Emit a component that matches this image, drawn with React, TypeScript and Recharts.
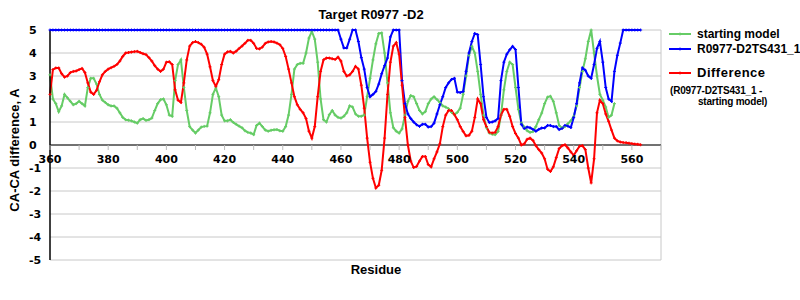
import React from "react";
import { LineChart, Line, XAxis, YAxis, CartesianGrid, ReferenceLine } from "recharts";

const residueStart = 360;

const startingModel = [
  3.05, 2.0, 1.8, 1.45, 1.7, 2.2, 2.05, 1.9, 1.75, 1.8,
  1.9, 1.8, 1.7, 2.5, 2.9, 2.9, 2.65, 2.2, 1.95, 1.85,
  1.75, 1.7, 1.7, 1.6, 1.4, 1.2, 1.1, 1.08, 1.05, 1.0,
  0.95, 1.1, 1.15, 1.07, 1.1, 1.17, 1.5, 1.8, 1.97, 2.0,
  1.75, 1.3, 1.25, 2.8, 3.5, 3.7, 2.5, 1.5, 0.8, 0.65,
  0.52, 0.65, 0.78, 0.81, 0.82, 1.4, 2.2, 2.48, 2.1, 1.3,
  1.05, 1.05, 1.1, 0.98, 0.9, 0.82, 0.75, 0.62, 0.55, 0.52,
  0.45, 0.85, 0.95, 0.8, 0.65, 0.6, 0.64, 0.66, 0.67, 0.62,
  0.6, 0.8, 1.3, 2.2, 3.3, 3.5, 3.55, 3.55, 4.0, 4.65,
  4.94, 4.6, 3.6, 2.0, 1.1, 1.0, 1.32, 1.5, 1.3, 1.2,
  1.17, 1.25, 1.4, 1.7, 1.65, 1.35, 1.25, 1.25, 1.3, 2.1,
  2.9, 3.7, 4.4, 4.85, 4.87, 4.0, 2.7, 1.4, 0.75, 0.6,
  0.52, 0.7, 1.3, 1.9, 2.15, 2.1, 1.8, 1.5, 1.35, 1.45,
  1.8, 2.0, 2.1, 1.98, 1.85, 1.7, 1.65, 1.58, 1.42, 1.32,
  1.42, 1.6, 2.2, 3.0, 3.9, 4.29, 4.0, 3.2, 2.2, 1.3,
  0.75, 0.52, 0.47, 0.45, 0.59, 1.3, 2.4, 3.2, 3.6, 3.5,
  2.5, 1.55, 0.96, 0.78, 0.62, 0.55, 0.58, 0.8, 1.1, 1.39,
  1.8, 2.08, 2.12, 1.9, 1.4, 0.85, 0.74, 0.8, 0.93, 1.05,
  1.25, 1.7, 2.5, 3.2, 3.75, 4.5, 5.0, 4.0, 3.0, 2.2,
  1.95, 1.65, 1.2, 1.3, 1.8,
];

const ts431 = [
  5, 5, 5, 5, 5, 5, 5, 5, 5, 5,
  5, 5, 5, 5, 5, 5, 5, 5, 5, 5,
  5, 5, 5, 5, 5, 5, 5, 5, 5, 5,
  5, 5, 5, 5, 5, 5, 5, 5, 5, 5,
  5, 5, 5, 5, 5, 5, 5, 5, 5, 5,
  5, 5, 5, 5, 5, 5, 5, 5, 5, 5,
  5, 5, 5, 5, 5, 5, 5, 5, 5, 5,
  5, 5, 5, 5, 5, 5, 5, 5, 5, 5,
  5, 5, 5, 5, 5, 5, 5, 5, 5, 5,
  5, 5, 5, 5, 5, 5, 5, 5, 5, 5,
  4.6, 4.22, 4.22, 4.6, 5, 5, 4.5, 3.8, 3.3, 2.5,
  2.1, 2.2, 2.33, 2.65, 3.1, 3.45, 3.78, 4.7, 5, 5,
  5, 2.8, 1.8, 1.35, 1.15, 1.0, 0.88, 0.81, 0.9, 0.9,
  0.78, 0.8, 0.95, 1.35, 1.75, 2.1, 2.5, 2.7, 2.85, 2.9,
  2.3, 2.28, 2.33, 3.2, 4.0, 4.5, 4.85, 4.8, 3.5, 2.1,
  1.2, 0.98, 1.0, 1.05, 1.15, 2.8, 3.6, 3.95, 4.14, 4.29,
  4.15, 2.5, 0.9, 0.72, 0.78, 0.75, 0.68, 0.6, 0.68, 0.74,
  0.74, 0.85, 0.85, 0.8, 0.8, 0.67, 0.72, 0.85, 0.82, 0.76,
  1.2, 1.8, 2.7, 3.35, 3.25, 3.0, 2.9, 3.5, 4.2, 4.5,
  3.6, 2.5, 2.0, 1.9, 3.2, 3.9, 4.43, 5, 5, 5,
  5, 5, 5, 5,
];

const difference = [
  2.2, 3.28, 3.35, 3.35, 3.1, 2.95, 3.0, 3.15, 3.2, 3.22,
  3.28, 3.33, 3.15, 2.7, 2.3, 2.2, 2.38, 2.75, 3.05, 3.2,
  3.3, 3.36, 3.42, 3.5, 3.65, 3.85, 4.0, 4.02, 4.04, 4.06,
  4.07, 4.02, 3.97, 3.93, 3.8, 3.65, 3.45, 3.3, 3.2, 3.3,
  3.6, 3.62, 3.5, 2.4, 1.95, 1.85, 2.7, 3.7, 4.3, 4.45,
  4.5, 4.45, 4.38, 4.25, 3.95, 3.4, 2.8, 2.55, 2.84, 3.5,
  3.95, 4.05, 4.07, 4.0, 4.08, 4.2, 4.3, 4.42, 4.55, 4.55,
  4.42, 4.2, 4.18, 4.26, 4.42, 4.48, 4.5, 4.48, 4.43, 4.36,
  4.2, 3.85, 3.3, 2.7, 2.1, 1.75, 1.55, 1.4, 1.15, 0.6,
  0.3, 0.8, 2.1, 3.2, 3.7, 3.78, 3.78, 3.75, 3.72, 3.82,
  3.65, 3.2, 3.0, 3.05, 3.2, 3.42, 3.3, 2.6, 1.6, 0.3,
  -0.75, -1.45, -1.87, -1.75, -1.1, 0.3, 2.2, 3.6, 4.3, 4.45,
  3.95, 2.6, 1.2, 0.0, -0.7, -0.98, -0.93, -0.7, -0.5, -0.5,
  -0.85, -0.95, -0.6, -0.3, 0.05, 0.8, 1.3, 1.5, 1.5, 1.32,
  1.1, 0.8, 0.59, 0.4, 0.42, 0.6, 1.2, 2.0, 1.8, 1.1,
  0.8, 0.55, 0.52, 0.55, 0.8, 1.3, 1.55, 1.55, 1.25, 0.8,
  0.5, 0.3, 0.0, 0.05, 0.25, 0.3, 0.2, -0.03, -0.2, -0.35,
  -0.6, -1.05, -1.15, -0.95, -0.55, -0.15, -0.03, 0.01, -0.13, -0.3,
  -0.45, -0.25, -0.05, -0.03, -0.2, -1.0, -1.65, -0.6, 1.4, 1.95,
  1.8, 1.35, 1.03, 0.65, 0.3, 0.18, 0.13, 0.11, 0.1, 0.08,
  0.06, 0.04, 0.03, 0.01,
];

const xTicks = [360, 370, 380, 390, 400, 410, 420, 430, 440, 450, 460, 470, 480, 490, 500, 510, 520, 530, 540, 550, 560, 570];
const yTicks = [-5, -4, -3, -2, -1, 0, 1, 2, 3, 4, 5];

const data = difference.map((d, i) => ({
  r: residueStart + i,
  green: i < startingModel.length ? startingModel[i] : null,
  blue: ts431[i],
  red: d,
}));

const GREEN = "#66cc66";
const BLUE = "#0000ff";
const RED = "#ff0000";
const TICK_FONT = "'DejaVu Sans', Verdana, sans-serif";
const LABEL_FONT = "'Liberation Sans', Arial, sans-serif";
const ZERO_Y = 145;

const crossDot = (color: string) => (props: any) => {
  const { cx, cy, index } = props;
  if (cx == null || cy == null || props.value == null) return <g key={index} />;
  return (
    <path
      key={index}
      d={`M${cx - 1.5},${cy}h3M${cx},${cy - 1.5}v3`}
      stroke={color}
      strokeWidth={1}
      fill="none"
    />
  );
};

const XTick = (props: any) => {
  const { x, payload } = props;
  const v = payload.value;
  return (
    <g>
      <line x1={x} x2={x} y1={ZERO_Y} y2={ZERO_Y + 5} stroke="#bbbbbb" strokeWidth={1} />
      {v % 20 === 0 && (
        <text x={x} y={ZERO_Y + 18} textAnchor="middle" fontFamily={TICK_FONT} fontWeight="bold" fontSize={11} fill="#000">
          {v}
        </text>
      )}
    </g>
  );
};

const YTick = (props: any) => {
  const { y, payload } = props;
  return (
    <text x={29} y={y + 4} textAnchor="start" fontFamily={TICK_FONT} fontWeight="bold" fontSize={11} fill="#000">
      {String(payload.value)}
    </text>
  );
};

const LegendLine = ({ color, top }: { color: string; top: number }) => (
  <svg style={{ position: "absolute", left: 668, top: top - 3 }} width={24} height={6}>
    <line x1={1} x2={23} y1={3} y2={3} stroke={color} strokeWidth={2} />
    <line x1={12} x2={12} y1={1.5} y2={4.5} stroke={color} strokeWidth={1} />
  </svg>
);

const textBase: React.CSSProperties = {
  position: "absolute",
  fontFamily: LABEL_FONT,
  fontWeight: "bold",
  color: "#000",
  whiteSpace: "nowrap",
};

export default function App() {
  return (
    <div style={{ position: "absolute", left: 0, top: 0, width: 800, height: 300, background: "#fff" }}>
      <LineChart width={800} height={300} data={data} margin={{ top: 30, right: 139, bottom: 39, left: 0 }}>
        <CartesianGrid vertical={false} stroke="#c8c8c8" strokeWidth={1} />
        <XAxis
          dataKey="r"
          type="number"
          domain={[360, 570]}
          ticks={xTicks}
          interval={0}
          height={1}
          axisLine={false}
          tickLine={false}
          tick={<XTick />}
        />
        <YAxis
          domain={[-5, 5]}
          ticks={yTicks}
          interval={0}
          width={50}
          axisLine={{ stroke: "#000", strokeWidth: 1.5 }}
          tickLine={false}
          tick={<YTick />}
        />
        <ReferenceLine x={570} stroke="#c8c8c8" strokeWidth={1} />
        <ReferenceLine y={0} stroke="#000" strokeWidth={1} />
        <Line dataKey="green" stroke={GREEN} strokeWidth={2} dot={crossDot(GREEN)} isAnimationActive={false} type="linear" />
        <Line dataKey="blue" stroke={BLUE} strokeWidth={2} dot={crossDot(BLUE)} isAnimationActive={false} type="linear" />
        <Line dataKey="red" stroke={RED} strokeWidth={2} dot={crossDot(RED)} isAnimationActive={false} type="linear" />
      </LineChart>

      <div style={{ ...textBase, left: 271, top: 7, width: 200, textAlign: "center", fontSize: 13, lineHeight: "16px" }}>
        Target R0977 -D2
      </div>
      <div style={{ ...textBase, left: 276, top: 262, width: 200, textAlign: "center", fontSize: 13, lineHeight: "16px" }}>
        Residue
      </div>
      <div
        style={{
          ...textBase,
          left: 15,
          top: 150,
          fontSize: 13,
          lineHeight: "16px",
          transform: "translate(-50%, -50%) rotate(-90deg)",
        }}
      >
        CA-CA difference, A
      </div>

      <LegendLine color={GREEN} top={34} />
      <LegendLine color={BLUE} top={49} />
      <LegendLine color={RED} top={73} />
      <div style={{ ...textBase, left: 697, top: 27, fontSize: 12, lineHeight: "14px" }}>starting model</div>
      <div style={{ ...textBase, left: 697, top: 42, fontSize: 12, lineHeight: "14px" }}>R0977-D2TS431_1</div>
      <div style={{ ...textBase, left: 697, top: 65, fontSize: 13, lineHeight: "16px", letterSpacing: 0.5 }}>Difference</div>
      <div style={{ ...textBase, left: 670, top: 85, fontSize: 10, lineHeight: "11px", letterSpacing: -0.2 }}>(R0977-D2TS431_1 -</div>
      <div style={{ ...textBase, left: 698, top: 96, fontSize: 10, lineHeight: "11px", letterSpacing: -0.2 }}>starting model)</div>
    </div>
  );
}
